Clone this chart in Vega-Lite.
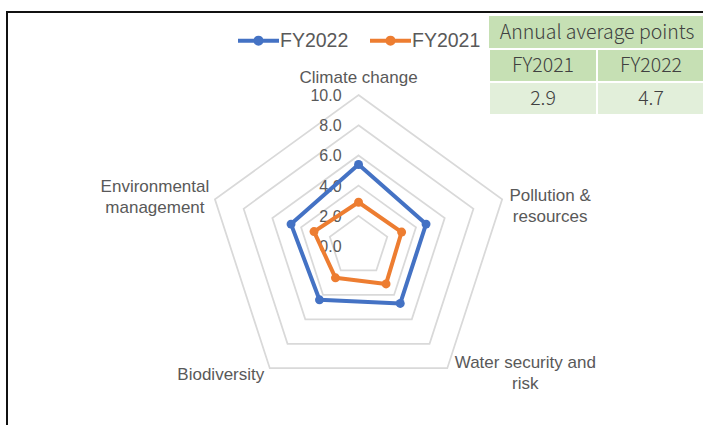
{
  "$schema": "https://vega.github.io/schema/vega-lite/v6.json",
  "width": 699,
  "height": 416,
  "autosize": {"type": "none"},
  "padding": {"left": 7, "top": 12, "right": -3, "bottom": -3},
  "background": "white",
  "config": {"view": {"stroke": "#111111", "strokeWidth": 2}, "font": "Liberation Sans"},
  "datasets": {
    "series": [
      {"category": "Climate change", "idx": 0, "series": "FY2022", "value": 5.4},
      {"category": "Pollution & resources", "idx": 1, "series": "FY2022", "value": 4.7},
      {"category": "Water security and risk", "idx": 2, "series": "FY2022", "value": 4.7},
      {"category": "Biodiversity", "idx": 3, "series": "FY2022", "value": 4.4},
      {"category": "Environmental management", "idx": 4, "series": "FY2022", "value": 4.7},
      {"category": "Climate change", "idx": 0, "series": "FY2021", "value": 2.9},
      {"category": "Pollution & resources", "idx": 1, "series": "FY2021", "value": 3.0},
      {"category": "Water security and risk", "idx": 2, "series": "FY2021", "value": 3.1},
      {"category": "Biodiversity", "idx": 3, "series": "FY2021", "value": 2.6},
      {"category": "Environmental management", "idx": 4, "series": "FY2021", "value": 3.1}
    ],
    "grid": [
      {"level": 2, "idx": 0}, {"level": 2, "idx": 1}, {"level": 2, "idx": 2}, {"level": 2, "idx": 3}, {"level": 2, "idx": 4},
      {"level": 4, "idx": 0}, {"level": 4, "idx": 1}, {"level": 4, "idx": 2}, {"level": 4, "idx": 3}, {"level": 4, "idx": 4},
      {"level": 6, "idx": 0}, {"level": 6, "idx": 1}, {"level": 6, "idx": 2}, {"level": 6, "idx": 3}, {"level": 6, "idx": 4},
      {"level": 8, "idx": 0}, {"level": 8, "idx": 1}, {"level": 8, "idx": 2}, {"level": 8, "idx": 3}, {"level": 8, "idx": 4},
      {"level": 10, "idx": 0}, {"level": 10, "idx": 1}, {"level": 10, "idx": 2}, {"level": 10, "idx": 3}, {"level": 10, "idx": 4}
    ],
    "ticks": [{"tick": 0}, {"tick": 2}, {"tick": 4}, {"tick": 6}, {"tick": 8}, {"tick": 10}],
    "labels": [
      {"idx": 0, "label": "Climate change"},
      {"idx": 1, "label": "Pollution &\nresources"},
      {"idx": 2, "label": "Water security and\nrisk"},
      {"idx": 3, "label": "Biodiversity"},
      {"idx": 4, "label": "Environmental\nmanagement"}
    ],
    "table": [
      {"row": "title", "col": "FY2021", "text": ""},
      {"row": "title", "col": "FY2022", "text": "Annual average points"},
      {"row": "year", "col": "FY2021", "text": "FY2021"},
      {"row": "year", "col": "FY2022", "text": "FY2022"},
      {"row": "value", "col": "FY2021", "text": "2.9"},
      {"row": "value", "col": "FY2022", "text": "4.7"}
    ]
  },
  "resolve": {"scale": {"x": "independent", "y": "independent"}},
  "layer": [
    {
      "layer": [
        {
          "data": {"name": "grid"},
          "transform": [
            {"calculate": "datum.idx * 2 * PI / 5", "as": "theta"},
            {"calculate": "datum.level * sin(datum.theta)", "as": "px"},
            {"calculate": "datum.level * cos(datum.theta)", "as": "py"}
          ],
          "mark": {"type": "line", "interpolate": "linear-closed", "color": "#D9D9D9", "strokeWidth": 1.75},
          "encoding": {
            "x": {"field": "px", "type": "quantitative", "scale": {"domain": [-23.28, 23.01], "nice": false, "zero": false}, "axis": null},
            "y": {"field": "py", "type": "quantitative", "scale": {"domain": [-12.05, 15.5], "nice": false, "zero": false}, "axis": null},
            "detail": {"field": "level", "type": "nominal"},
            "order": {"field": "idx", "type": "quantitative"}
          }
        },
        {
          "data": {"name": "ticks"},
          "mark": {"type": "text", "align": "right", "baseline": "middle", "dx": -17, "dy": 1, "fontSize": 16, "color": "#595959", "font": "Liberation Sans"},
          "encoding": {
            "x": {"datum": 0, "type": "quantitative"},
            "y": {"field": "tick", "type": "quantitative"},
            "text": {"field": "tick", "type": "quantitative", "format": ".1f"}
          }
        },
        {
          "data": {"name": "series"},
          "transform": [
            {"calculate": "datum.idx * 2 * PI / 5", "as": "theta"},
            {"calculate": "datum.value * sin(datum.theta)", "as": "px"},
            {"calculate": "datum.value * cos(datum.theta)", "as": "py"}
          ],
          "mark": {"type": "line", "interpolate": "linear-closed", "strokeWidth": 4, "strokeJoin": "round"},
          "encoding": {
            "x": {"field": "px", "type": "quantitative"},
            "y": {"field": "py", "type": "quantitative"},
            "order": {"field": "idx", "type": "quantitative"},
            "color": {
              "field": "series", "type": "nominal",
              "scale": {"domain": ["FY2022", "FY2021"], "range": ["#4472C4", "#ED7D31"]},
              "legend": {
                "orient": "none", "legendX": 229, "legendY": 6, "direction": "horizontal", "title": null,
                "symbolType": "M-1,0L1,0M-0.15,0A0.15,0.15,0,1,0,0.15,0A0.15,0.15,0,1,0,-0.15,0Z",
                "symbolSize": 1681, "symbolStrokeWidth": 4,
                "labelFont": "Liberation Sans", "labelFontSize": 19.5, "labelColor": "#595959",
                "labelOffset": -1, "columnPadding": 13, "padding": 0, "offset": 0,
                "encode": {"symbols": {"update": {"fill": {"scale": "color", "field": "value"}, "stroke": {"scale": "color", "field": "value"}}}}
              }
            }
          }
        },
        {
          "data": {"name": "series"},
          "transform": [
            {"calculate": "datum.idx * 2 * PI / 5", "as": "theta"},
            {"calculate": "datum.value * sin(datum.theta)", "as": "px"},
            {"calculate": "datum.value * cos(datum.theta)", "as": "py"}
          ],
          "mark": {"type": "point", "shape": "circle", "filled": true, "size": 80, "opacity": 1},
          "encoding": {
            "x": {"field": "px", "type": "quantitative"},
            "y": {"field": "py", "type": "quantitative"},
            "color": {"field": "series", "type": "nominal", "legend": null}
          }
        },
        {
          "data": {"name": "labels"},
          "transform": [
            {"filter": "datum.idx === 0"},
            {"calculate": "10 * sin(datum.idx * 2 * PI / 5)", "as": "px"},
            {"calculate": "10 * cos(datum.idx * 2 * PI / 5)", "as": "py"}
          ],
          "mark": {"type": "text", "align": "center", "baseline": "middle", "lineBreak": "\n", "lineHeight": 21, "fontSize": 17, "color": "#595959", "dx": 0, "dy": -17.5},
          "encoding": {"x": {"field": "px", "type": "quantitative"}, "y": {"field": "py", "type": "quantitative"}, "text": {"field": "label"}}
        },
        {
          "data": {"name": "labels"},
          "transform": [
            {"filter": "datum.idx === 1"},
            {"calculate": "10 * sin(datum.idx * 2 * PI / 5)", "as": "px"},
            {"calculate": "10 * cos(datum.idx * 2 * PI / 5)", "as": "py"}
          ],
          "mark": {"type": "text", "align": "center", "baseline": "middle", "lineBreak": "\n", "lineHeight": 21, "fontSize": 17, "color": "#595959", "dx": 48, "dy": -3},
          "encoding": {"x": {"field": "px", "type": "quantitative"}, "y": {"field": "py", "type": "quantitative"}, "text": {"field": "label"}}
        },
        {
          "data": {"name": "labels"},
          "transform": [
            {"filter": "datum.idx === 2"},
            {"calculate": "10 * sin(datum.idx * 2 * PI / 5)", "as": "px"},
            {"calculate": "10 * cos(datum.idx * 2 * PI / 5)", "as": "py"}
          ],
          "mark": {"type": "text", "align": "center", "baseline": "middle", "lineBreak": "\n", "lineHeight": 21, "fontSize": 17, "color": "#595959", "dx": 78, "dy": -5.5},
          "encoding": {"x": {"field": "px", "type": "quantitative"}, "y": {"field": "py", "type": "quantitative"}, "text": {"field": "label"}}
        },
        {
          "data": {"name": "labels"},
          "transform": [
            {"filter": "datum.idx === 3"},
            {"calculate": "10 * sin(datum.idx * 2 * PI / 5)", "as": "px"},
            {"calculate": "10 * cos(datum.idx * 2 * PI / 5)", "as": "py"}
          ],
          "mark": {"type": "text", "align": "center", "baseline": "middle", "lineBreak": "\n", "lineHeight": 21, "fontSize": 17, "color": "#595959", "dx": -49, "dy": 6.5},
          "encoding": {"x": {"field": "px", "type": "quantitative"}, "y": {"field": "py", "type": "quantitative"}, "text": {"field": "label"}}
        },
        {
          "data": {"name": "labels"},
          "transform": [
            {"filter": "datum.idx === 4"},
            {"calculate": "10 * sin(datum.idx * 2 * PI / 5)", "as": "px"},
            {"calculate": "10 * cos(datum.idx * 2 * PI / 5)", "as": "py"}
          ],
          "mark": {"type": "text", "align": "center", "baseline": "middle", "lineBreak": "\n", "lineHeight": 21, "fontSize": 17, "color": "#595959", "dx": -60, "dy": -12.5},
          "encoding": {"x": {"field": "px", "type": "quantitative"}, "y": {"field": "py", "type": "quantitative"}, "text": {"field": "label"}}
        },
        {
          "mark": {"type": "rule", "color": "#111111", "strokeWidth": 1.5},
          "encoding": {
            "x": {"datum": -22.95, "type": "quantitative"},
            "x2": {"datum": -4.0},
            "y": {"datum": 16.13, "type": "quantitative"}
          }
        }
      ]
    },
    {
      "data": {"name": "table"},
      "layer": [
        {
          "mark": {"type": "rect", "stroke": "white"},
          "encoding": {
            "x": {"field": "col", "type": "nominal", "scale": {"domain": ["FY2021", "FY2022"], "range": [482, 698], "paddingInner": 0, "paddingOuter": 0}, "axis": null},
            "y": {"field": "row", "type": "nominal", "scale": {"domain": ["title", "year", "value"], "range": [4, 103], "paddingInner": 0, "paddingOuter": 0}, "axis": null},
            "fill": {"condition": {"test": "datum.row === 'value'", "value": "#E2EFDA"}, "value": "#C6E0B4"},
            "strokeWidth": {"condition": {"test": "datum.row === 'title'", "value": 0}, "value": 2}
          }
        },
        {
          "transform": [{"filter": "datum.row === 'title' && datum.text !== ''"}],
          "mark": {"type": "text", "align": "center", "baseline": "middle", "fontSize": 19.5, "font": "Noto Sans CJK JP", "fontWeight": 300, "color": "#404040"},
          "encoding": {
            "x": {"field": "col", "type": "nominal", "bandPosition": 0},
            "y": {"field": "row", "type": "nominal"},
            "text": {"field": "text"}
          }
        },
        {
          "transform": [{"filter": "datum.row !== 'title'"}],
          "mark": {"type": "text", "align": "center", "baseline": "middle", "fontSize": 19.5, "font": "Noto Sans CJK JP", "fontWeight": 300, "color": "#404040"},
          "encoding": {
            "x": {"field": "col", "type": "nominal"},
            "y": {"field": "row", "type": "nominal"},
            "text": {"field": "text"}
          }
        }
      ]
    }
  ]
}
